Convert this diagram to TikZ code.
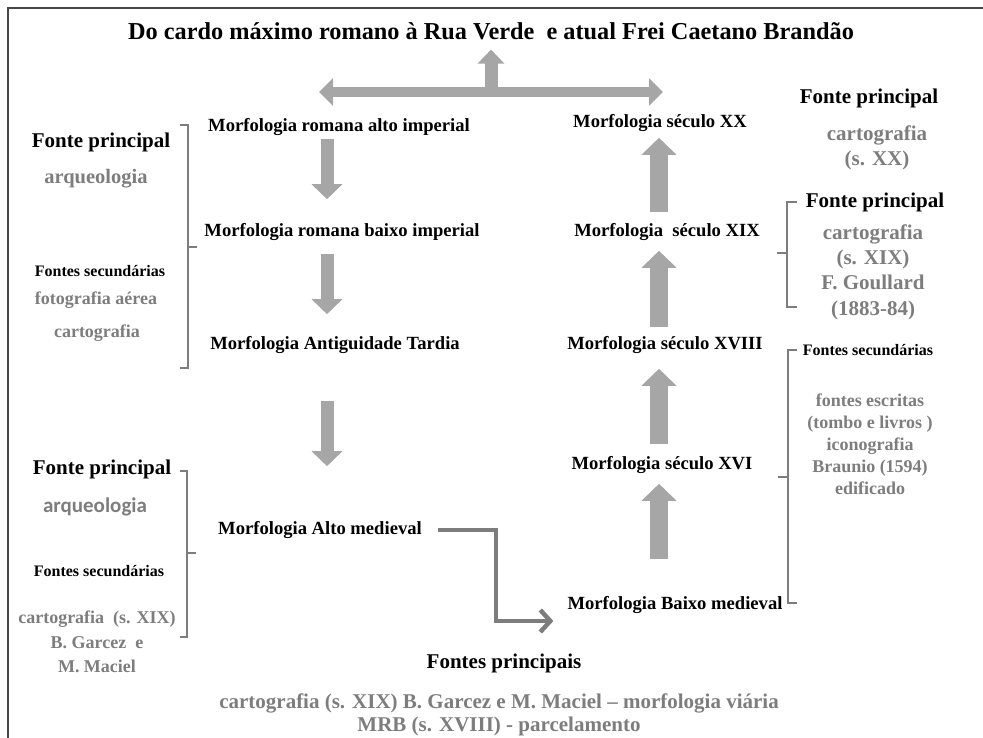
\documentclass[tikz,border=0pt]{standalone}
\usepackage{fontspec}
\setmainfont{Liberation Serif}
\newfontfamily\calibri{Carlito}
\usetikzlibrary{arrows.meta,calc}
\definecolor{arrowgray}{RGB}{166,166,166}
\definecolor{srcgray}{RGB}{125,125,125}
\definecolor{framegray}{RGB}{70,70,70}

\begin{document}
\begin{tikzpicture}[x=1pt, y=-1pt,
  morf/.style={inner sep=0pt, font=\fontsize{18.6}{22}\selectfont\bfseries},
  head/.style={inner sep=0pt, font=\fontsize{21}{25}\selectfont\bfseries},
  sec/.style={inner sep=0pt, font=\fontsize{16}{20}\selectfont\bfseries},
  src/.style={inner sep=0pt, align=center, text=srcgray, font=\fontsize{18}{24.5}\selectfont\bfseries},
  srcbig/.style={src, font=\fontsize{21}{25.3}\selectfont\bfseries},
  downarrow/.style={draw=arrowgray, line width=13pt, -{Triangle[width=30pt,length=15pt]}},
  uparrow/.style={draw=arrowgray, line width=18pt, -{Triangle[width=34pt,length=17pt]}},
  elbowarrow/.style={draw=srcgray, line width=4.5pt, -{Straight Barb[length=10pt,width=22pt]}},
  bracket/.style={draw=srcgray, line width=2.5pt},
  frame/.style={draw=framegray, line width=2pt}]
  \useasboundingbox (0,0) rectangle (983,738);

  % moldura
  \draw[frame] (8,738) -- (8,8) -- (983,8);

  % titulo
  \node[anchor=base, inner sep=0pt, font=\fontsize{24.3}{28}\selectfont\bfseries] (title) at (491,40)
    {Do cardo máximo romano à Rua Verde\ \ e atual Frei Caetano Brandão};

  % barra de topo
  \coordinate (barL) at (319,92);
  \coordinate (barR) at (663,92);
  \coordinate (barM) at (491,92);
  \draw[draw=arrowgray, line width=10pt,
        {Triangle[width=27pt,length=14pt]}-{Triangle[width=27pt,length=14pt]}] (barL) -- (barR);
  \draw[draw=arrowgray, line width=13pt, -{Triangle[width=26pt,length=14pt]},
        shorten >=9pt] (barM) -- (barM |- title.south);

  % coluna esquerda
  \node[morf] (alto) at (339,127) {Morfologia romana alto imperial};
  \node[morf] (baixo) at (342,232) {Morfologia romana baixo imperial};
  \node[morf] (tardia) at (335,345) {Morfologia Antiguidade Tardia};
  \node[morf] (altomed) at (320,530) {Morfologia Alto medieval};

  \coordinate (lcol) at (327,0);
  \draw[downarrow, shorten <=3pt, shorten >=24pt] (alto.south -| lcol) -- (baixo.north -| lcol);
  \draw[downarrow, shorten <=13pt, shorten >=22pt] (baixo.south -| lcol) -- (tardia.north -| lcol);
  \draw[downarrow, shorten <=47pt, shorten >=55pt] (tardia.south -| lcol) -- (altomed.north -| lcol);

  % coluna direita
  \node[morf] (sxx) at (660,123) {Morfologia século XX};
  \node[morf] (sxix) at (667,232) {Morfologia\ \ século XIX};
  \node[morf] (sxviii) at (665,345) {Morfologia século XVIII};
  \node[morf] (sxvi) at (662,465) {Morfologia século XVI};
  \node[morf] (baixomed) at (675,605) {Morfologia\ Baixo medieval};

  \coordinate (rcol) at (659,0);
  \draw[uparrow, shorten <=11pt, shorten >=6pt] (sxix.north -| rcol) -- (sxx.south -| rcol);
  \draw[uparrow, shorten <=9pt, shorten >=10pt] (sxviii.north -| rcol) -- (sxix.south -| rcol);
  \draw[uparrow, shorten <=12pt, shorten >=15pt] (sxvi.north -| rcol) -- (sxviii.south -| rcol);
  \draw[uparrow, shorten <=37pt, shorten >=10pt] (baixomed.north -| rcol) -- (sxvi.south -| rcol);

  % alto -> baixo medieval
  \coordinate (knee) at (496,621);
  \draw[elbowarrow, shorten <=16pt, shorten >=14pt] (altomed.east) -| (knee) -- (knee -| baixomed.west);

  % chavetas
  \draw[bracket] (180,125) -- (188,125) -- (188,368) -- (180,368);
  \draw[bracket] (188,247) -- (197,247);
  \draw[bracket] (180,471) -- (187,471) -- (187,637) -- (180,637);
  \draw[bracket] (187,553) -- (196,553);
  \draw[bracket] (797,202) -- (787,202) -- (787,307) -- (797,307);
  \draw[bracket] (787,253) -- (777,253);
  \draw[bracket] (797,350) -- (788,350) -- (788,603) -- (797,603);
  \draw[bracket] (788,477) -- (778,477);

  % fontes, esquerda
  \node[head] (fpA) at (101,142) {Fonte principal};
  \node[src, font=\fontsize{20.5}{24}\selectfont\bfseries] (arqA) at (96,179) {arqueologia};
  \node[sec] (fsA) at (100,271) {Fontes secundárias};
  \node[src] (fotoA) at (96,300) {fotografia aérea};
  \node[src] (cartA) at (97,333) {cartografia};

  \node[head] (fpB) at (102,469) {Fonte principal};
  \node[src, font=\calibri\fontsize{21}{25}\selectfont\bfseries] (arqB) at (95,507) {arqueologia};
  \node[sec] (fsB) at (99,571) {Fontes secundárias};
  \node[src] (cartB) at (97,642) {cartografia\ \ (s. XIX)\\B. Garcez\ \ e\\M. Maciel};

  % fontes, direita
  \node[head] (fpC) at (869,98) {Fonte principal};
  \node[srcbig] (cartC) at (877,148) {cartografia\\(s. XX)};
  \node[head] (fpD) at (875,202) {Fonte principal};
  \node[srcbig] (cartD) at (873,272) {cartografia\\(s. XIX)\\F. Goullard\\(1883-84)};
  \node[sec] (fsE) at (868,350) {Fontes secundárias};
  \node[src, font=\fontsize{18}{22}\selectfont\bfseries] (escE) at (870,444)
    {fontes escritas\\(tombo e livros\ )\\iconografia\\Braunio (1594)\\edificado};

  % fontes, base
  \node[head] (fpF) at (504,663) {Fontes principais};
  \node[src, font=\fontsize{21}{23}\selectfont\bfseries] (cartF) at (499,714.5)
    {cartografia (s. XIX) B. Garcez e M. Maciel – morfologia viária\\MRB (s. XVIII) - parcelamento};
\end{tikzpicture}
\end{document}
